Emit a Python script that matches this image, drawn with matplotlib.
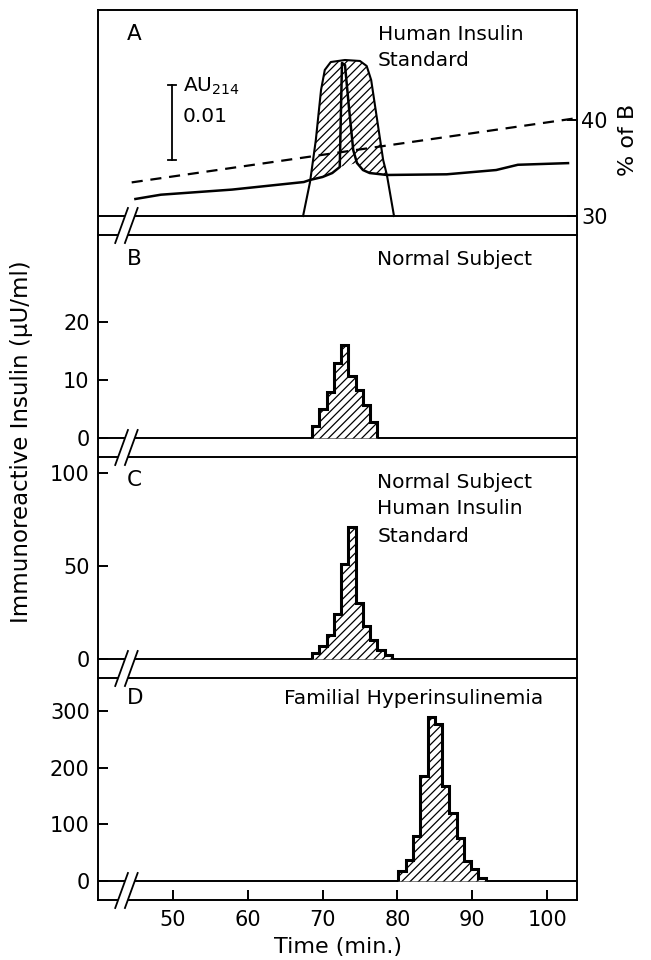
"""
    Reverse-phase HPLC of insulin: absorbance trace of the human insulin
    standard (A) and immunoreactive insulin per fraction (B-D).
"""
import numpy as np
import matplotlib
matplotlib.use("Agg")
import matplotlib.pyplot as plt
from matplotlib.patches import Polygon
from matplotlib.lines import Line2D
from matplotlib.transforms import blended_transform_factory

plt.rcParams['font.family'] = ['DejaVu Sans']
plt.rcParams['font.size'] = 14.5
plt.rcParams['xtick.labelsize'] = 15
plt.rcParams['ytick.labelsize'] = 15
plt.rcParams['mathtext.default'] = 'regular'
plt.rcParams['hatch.linewidth'] = 0.9

# ---------------- data ----------------
# panel A: absorbance at 214 nm (AU above the 30 % baseline)
trace_t = [45.0, 48.4, 57.9, 67.5, 68.3, 70.0, 71.3, 72.3, 72.6, 73.0,
           73.5, 74.1, 74.6, 75.4, 76.3, 78.6, 86.6, 93.2, 96.1, 102.8]
trace_au = [0.00227, 0.00284, 0.00352, 0.00453, 0.00480, 0.00520, 0.00573,
            0.00653, 0.02040, 0.02013, 0.01480, 0.00880, 0.00707, 0.00613,
            0.00573, 0.00547, 0.00556, 0.00613, 0.00683, 0.00705]
# flat-topped outline of the collected peak
peak_t = [67.4, 68.33, 69.1, 69.8, 70.3, 71.1, 73.0, 75.0, 75.9, 76.5,
          77.3, 78.1, 78.6, 79.55]
peak_au = [0.0, 0.00453, 0.0101, 0.0168, 0.01947, 0.02053, 0.0208, 0.02067,
           0.0200, 0.01813, 0.0128, 0.00747, 0.00547, 0.0]
# gradient (% of B)
gradient_t = [44.5, 104.0]
gradient_b = [33.5, 40.2]
scalebar_t = 49.9
scalebar_au = [0.0075, 0.0175]

# panels B-D: immunoreactive insulin (uU/ml) per fraction
frac_width = 0.97
b_start = 68.6
b_insulin = [2, 5, 8, 13, 16, 10.7, 8.3, 5.7, 2.7]
c_start = 68.6
c_insulin = [3, 7, 13, 24, 51, 71, 30, 18, 10, 5, 2]
d_start = 80.15
d_insulin = [17, 37, 80, 185, 289, 277, 167, 120, 76, 35, 21, 5]

time_ticks = [50, 60, 70, 80, 90, 100]
b_ticks = [0, 10, 20]
c_ticks = [0, 50, 100]
d_ticks = [0, 100, 200, 300]
b_pct_ticks = [30, 40]

# ---------------- layout (pixels of a 651x960 image) ----------------
W, H = 651, 960
LEFT, RIGHT = 98, 577
XLIM = (40, 104)
tops = [10, 235, 457, 678]
bottoms = [235, 457, 678, 900]
zeros = [216, 438, 659, 881]
LW = 1.4


def ylim_from(v0, zero_px, ppu, top, bottom):
    '''value limits so that v0 sits at zero_px with ppu pixels per unit'''
    return (v0 - (bottom - zero_px) / ppu, v0 + (zero_px - top) / ppu)


def make_panel(fig, i):
    rect = [LEFT / W, 1 - bottoms[i] / H, (RIGHT - LEFT) / W,
            (bottoms[i] - tops[i]) / H]
    ax = fig.add_axes(rect)
    ax.set_xlim(*XLIM)
    for s in ax.spines.values():
        s.set_linewidth(LW)
    if i < 3:
        ax.spines['bottom'].set_visible(False)
        ax.tick_params(axis='x', bottom=False, labelbottom=False)
    ax.tick_params(axis='y', direction='in', length=7, width=LW, pad=6)
    return ax


def panel_text(ax, x, off_px, s, ha='center', **kw):
    ax.annotate(s, xy=(x, 1), xycoords=('data', 'axes fraction'),
                xytext=(0, -off_px * 0.72), textcoords='offset points',
                ha=ha, va='center', **kw)


def draw_hist(ax, start, values):
    edges = start + frac_width * np.arange(len(values) + 1)
    ax.stairs(values, edges, baseline=0, fill=True, facecolor='white',
              edgecolor='black', hatch='////', linewidth=2.2, zorder=3)


fig = plt.figure(figsize=(W / 100, H / 100), dpi=100)

# ---- panel A ----
ax_a = make_panel(fig, 0)
ax_a.set_ylim(*ylim_from(30, zeros[0], 9.6, tops[0], bottoms[0]))
ax_a.yaxis.tick_right()
ax_a.set_yticks(b_pct_ticks)
ax_a.tick_params(axis='y', direction='in', length=7, width=LW, pad=3)
ax_a.axhline(30, color='black', lw=LW)
ax_a.plot(gradient_t, gradient_b, color='black', lw=1.6,
          linestyle=(0, (5, 3.5)))

ax_au = fig.add_axes(ax_a.get_position(), sharex=ax_a)
ax_au.axis('off')
ax_au.set_ylim(*ylim_from(0, zeros[0], 7500, tops[0], bottoms[0]))

tt = np.array(trace_t)
ta = np.array(trace_au)
pt = np.array(peak_t)
pa = np.array(peak_au)
top_mask = (pt >= 68.3) & (pt <= 78.6)
floor_mask = (tt >= 68.3) & (tt <= 78.6) & ((tt <= 72.3) | (tt >= 74.6))
poly_x = np.concatenate([pt[top_mask], tt[floor_mask][::-1]])
poly_y = np.concatenate([pa[top_mask], ta[floor_mask][::-1]])
ax_au.add_patch(Polygon(np.column_stack([poly_x, poly_y]), closed=True,
                        facecolor='none', edgecolor='black', hatch='////',
                        linewidth=0, zorder=2))
ax_au.plot(peak_t, peak_au, color='black', lw=1.5, zorder=3)
ax_au.plot(trace_t, trace_au, color='black', lw=1.8, zorder=3)

# AU scale bar
ax_au.plot([scalebar_t, scalebar_t], scalebar_au, color='black', lw=1.3)
for v in scalebar_au:
    ax_au.plot([scalebar_t - 0.5, scalebar_t + 0.5], [v, v], color='black',
               lw=1.3)
ax_au.text(51.3, 0.0173, 'AU$_{214}$', ha='left', va='center')
ax_au.text(51.3, 0.0132, '0.01', ha='left', va='center')

panel_text(ax_a, 44.9, 24, 'A', fontsize=15.5)
panel_text(ax_a, 77.4, 24, 'Human Insulin', ha='left')
panel_text(ax_a, 77.4, 51, 'Standard', ha='left')
fig.text(628 / W, 1 - 140 / H, '% of B', rotation=90, ha='center',
         va='center', fontsize=16)

# ---- panel B ----
ax_b = make_panel(fig, 1)
ax_b.set_ylim(*ylim_from(0, zeros[1], 5.8, tops[1], bottoms[1]))
ax_b.set_yticks(b_ticks)
ax_b.axhline(0, color='black', lw=LW)
draw_hist(ax_b, b_start, b_insulin)
panel_text(ax_b, 44.9, 24, 'B', fontsize=15.5)
panel_text(ax_b, 77.3, 24, 'Normal Subject', ha='left')

# ---- panel C ----
ax_c = make_panel(fig, 2)
ax_c.set_ylim(*ylim_from(0, zeros[2], 1.86, tops[2], bottoms[2]))
ax_c.set_yticks(c_ticks)
ax_c.axhline(0, color='black', lw=LW)
draw_hist(ax_c, c_start, c_insulin)
panel_text(ax_c, 44.9, 23, 'C', fontsize=15.5)
for off, s in zip([25, 52, 79],
                  ['Normal Subject', 'Human Insulin', 'Standard']):
    panel_text(ax_c, 77.3, off, s, ha='left')

# ---- panel D ----
ax_d = make_panel(fig, 3)
ax_d.set_ylim(*ylim_from(0, zeros[3], 0.567, tops[3], bottoms[3]))
ax_d.set_yticks(d_ticks)
ax_d.axhline(0, color='black', lw=LW)
draw_hist(ax_d, d_start, d_insulin)
ax_d.set_xticks(time_ticks)
ax_d.tick_params(axis='x', direction='in', length=7, width=LW, pad=7)
panel_text(ax_d, 44.9, 20, 'D', fontsize=15.5)
panel_text(ax_d, 64.8, 20, 'Familial Hyperinsulinemia', ha='left')

fig.text((LEFT + RIGHT) / 2 / W, 1 - 947 / H, 'Time (min.)', ha='center',
         va='center', fontsize=16)
fig.text(22 / W, 1 - 442 / H, 'Immunoreactive Insulin (\u03bcU/ml)',
         rotation=90, ha='center', va='center', fontsize=16.5)

# axis-break marks "//" across each double line
trans = blended_transform_factory(ax_d.transData, fig.transFigure)
for z in zeros:
    yb = 1 - (z + 27) / H
    yt = 1 - (z - 8) / H
    fig.add_artist(Polygon([[42.3, yb], [44.0, yt], [45.3, yt], [43.6, yb]],
                           closed=True, facecolor='white', edgecolor='none',
                           transform=trans, zorder=4))
    for xb, xt in [(42.3, 44.0), (43.6, 45.3)]:
        fig.add_artist(Line2D([xb, xt], [yb, yt], color='black', lw=1.3,
                              transform=trans, zorder=5))

fig.savefig('out.png', dpi=100)
